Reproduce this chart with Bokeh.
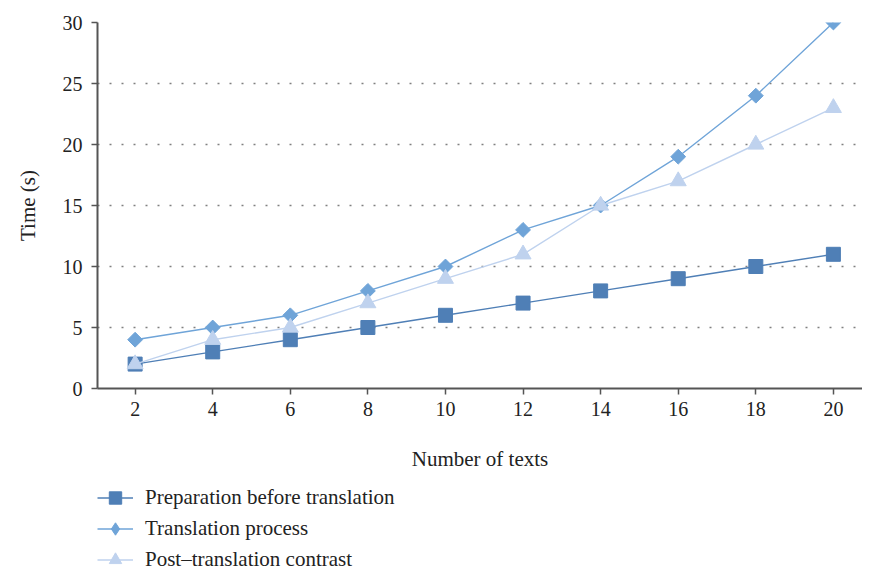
from bokeh.plotting import figure
from bokeh.models import Legend, LegendItem, Range1d, FixedTicker
from bokeh.layouts import column
from bokeh.embed import file_html
from bokeh.resources import INLINE
import math

texts = [2, 4, 6, 8, 10, 12, 14, 16, 18, 20]
prep = [2, 3, 4, 5, 6, 7, 8, 9, 10, 11]
trans = [4, 5, 6, 8, 10, 13, 15, 19, 24, 30]
post = [2, 4, 5, 7, 9, 11, 15, 17, 20, 23]
y_ticks = [0, 5, 10, 15, 20, 25, 30]
labels = ["Preparation before translation", "Translation process", "Post\u2013translation contrast"]

FONT = "Liberation Serif"
C_PREP = "#4f7fb6"
C_TRANS = "#6fa4d8"
C_POST = "#bfd2ee"

p = figure(width=862, height=476, frame_width=765, frame_height=366,
           output_backend="svg", toolbar_location=None,
           x_range=Range1d(1.03, 20.75), y_range=Range1d(0, 30),
           min_border_left=97, min_border_top=22, min_border_bottom=0, min_border_right=0)
p.outline_line_color = None
p.xgrid.visible = False
p.ygrid.grid_line_color = "#808080"
p.ygrid.grid_line_dash = "2 10"
p.ygrid.grid_line_width = 1.6

for ax in (p.xaxis[0], p.yaxis[0]):
    ax.axis_line_color = "#555555"
    ax.axis_line_width = 2
    ax.major_tick_line_color = "#555555"
    ax.major_tick_line_width = 1.5
    ax.major_tick_out = 6
    ax.major_tick_in = 0
    ax.minor_tick_line_color = None
    ax.major_label_text_font = FONT
    ax.major_label_text_font_size = "20px"
    ax.major_label_text_color = "#222222"
    ax.axis_label_text_font = FONT
    ax.axis_label_text_font_size = "21px"
    ax.axis_label_text_font_style = "normal"
    ax.axis_label_text_color = "#222222"

p.xaxis.ticker = FixedTicker(ticks=texts)
p.yaxis.ticker = FixedTicker(ticks=y_ticks)
p.xaxis.axis_label = "Number of texts"
p.yaxis.axis_label = "Time (s)"
p.xaxis.major_label_standoff = 7
p.xaxis.axis_label_standoff = 28
p.yaxis.major_label_standoff = 9
p.yaxis.axis_label_standoff = 20

p.line(texts, prep, line_color=C_PREP, line_width=1.4)
p.scatter(texts, prep, marker="square", size=14, fill_color=C_PREP, line_color=C_PREP)
p.line(texts, trans, line_color=C_TRANS, line_width=1.4)
p.scatter(texts, trans, marker="square", size=10.5, angle=math.pi / 4,
          fill_color=C_TRANS, line_color=C_TRANS)
p.line(texts, post, line_color=C_POST, line_width=1.4)
p.scatter(texts, post, marker="triangle", size=16, fill_color=C_POST, line_color=C_POST)

# legend panel below the chart (hidden copies of the series supply the swatches)
p2 = figure(width=862, height=102, output_backend="svg", toolbar_location=None,
            x_range=Range1d(1.03, 20.75), y_range=Range1d(0, 30),
            x_axis_location=None, y_axis_location=None,
            min_border_left=97, min_border_top=9, min_border_bottom=0, min_border_right=0)
p2.outline_line_color = None
p2.xgrid.visible = False
p2.ygrid.visible = False
g1 = [p2.line(texts, prep, line_color=C_PREP, line_width=1.4, visible=False),
      p2.scatter(texts, prep, marker="square", fill_color=C_PREP, line_color=C_PREP, visible=False)]
g2 = [p2.line(texts, trans, line_color=C_TRANS, line_width=1.4, visible=False),
      p2.scatter(texts, trans, marker="diamond", fill_color=C_TRANS, line_color=C_TRANS, visible=False)]
g3 = [p2.line(texts, post, line_color=C_POST, line_width=1.4, visible=False),
      p2.scatter(texts, post, marker="triangle", fill_color=C_POST, line_color=C_POST, visible=False)]

legend = Legend(items=[
    LegendItem(label=labels[0], renderers=g1),
    LegendItem(label=labels[1], renderers=g2),
    LegendItem(label=labels[2], renderers=g3),
], location="top_left", orientation="vertical")
legend.padding = 0
legend.margin = 0
legend.border_line_color = None
legend.background_fill_alpha = 0
legend.inactive_fill_alpha = 0
legend.label_text_font = FONT
legend.label_text_font_size = "21px"
legend.label_text_color = "#222222"
legend.glyph_width = 36
legend.glyph_height = 31
legend.label_height = 31
legend.spacing = 0
legend.label_standoff = 12
p2.add_layout(legend, "center")

layout = column(p, p2, spacing=0)
open("out.html", "w").write(file_html(layout, INLINE))
